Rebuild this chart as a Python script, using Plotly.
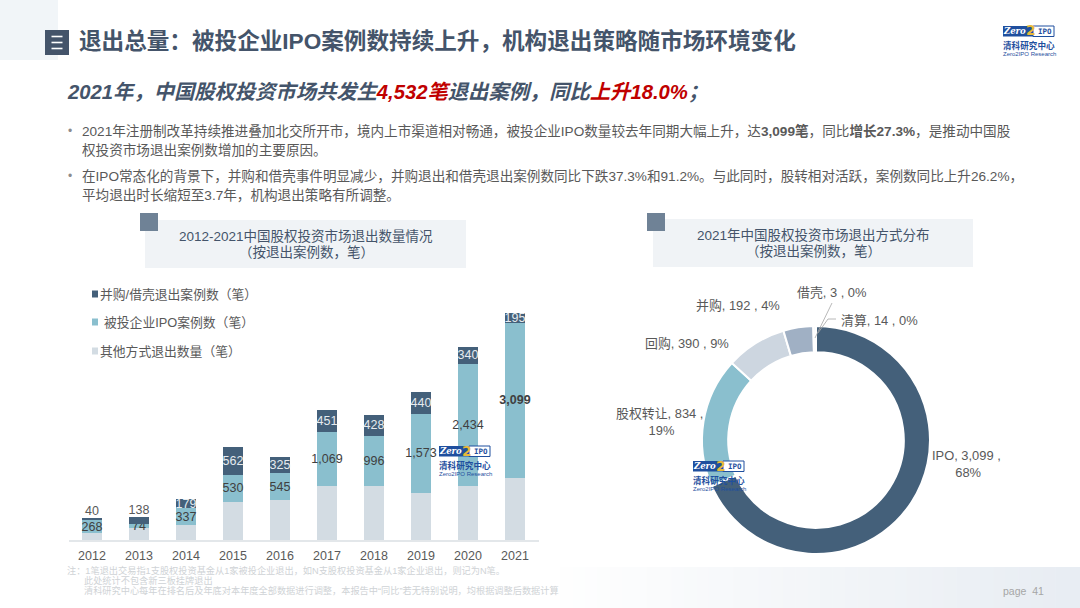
import plotly.graph_objects as go

W, H = 1080, 608
years = ["2012","2013","2014","2015","2016","2017","2018","2019","2020","2021"]
other_exits = [132, 248, 300, 768, 790, 1080, 1076, 947, 1086, 1238]
ipo_cases = [268, 74, 337, 530, 545, 1069, 996, 1573, 2434, 3099]
mna_cases = [40, 138, 179, 562, 325, 451, 428, 440, 340, 195]
legend_names = ["并购/借壳退出案例数（笔）", "被投企业IPO案例数（笔）", "其他方式退出数量（笔）"]
pie_names = ["IPO", "股权转让", "回购", "并购", "借壳", "清算"]
pie_values = [3099, 834, 390, 192, 3, 14]
pie_pct = ["68%", "19%", "9%", "4%", "0%", "0%"]

DARK, TEAL, PALE = "#44607a", "#8abfce", "#d3dce3"
SANS = "Liberation Sans, Noto Sans CJK SC, sans-serif"
TXT = "#595959"
SLATE = "#44546a"

def X(p): return p / W
def Y(p): return 1 - p / H

shapes, annos = [], []

def rect(x0, y0, x1, y1, fill, line=None, lw=0, layer="below", opacity=1):
    shapes.append(dict(type="rect", xref="paper", yref="paper", x0=X(x0), x1=X(x1), y0=Y(y0), y1=Y(y1),
                       fillcolor=fill, line=dict(color=line or fill, width=lw), layer=layer, opacity=opacity))

def seg(x0, y0, x1, y1, color, width=1, layer="above"):
    shapes.append(dict(type="line", xref="paper", yref="paper", x0=X(x0), x1=X(x1), y0=Y(y0), y1=Y(y1),
                       line=dict(color=color, width=width), layer=layer))

def text(x, y, s, size=12, color=TXT, anchor="left", family=SANS, align=None):
    annos.append(dict(xref="paper", yref="paper", x=X(x), y=Y(y), text=s, showarrow=False,
                      xanchor=anchor, yanchor="middle", align=align or anchor,
                      font=dict(size=size, color=color, family=family), borderpad=0, borderwidth=0))

def logo(x0, y0):
    blue = "#1f4f9e"
    rect(x0, y0, x0 + 30, y0 + 10.5, blue, layer="above")
    rect(x0 + 30, y0, x0 + 51, y0 + 10.5, "#ffffff", line=blue, lw=1, layer="above")
    text(x0 + 11, y0 + 5.3, "<b><i>Zero</i></b>", 8.5, "#ffffff", "center", "DejaVu Serif")
    text(x0 + 42, y0 + 5.3, "<b>IPO</b>", 7.5, blue, "center", "DejaVu Sans Mono")
    text(x0 + 28, y0 + 4.5, "<b>2</b>", 14, "#e8b93a", "center", "DejaVu Sans")
    text(x0 + 26, y0 + 19, "<b>清科研究中心</b>", 8.6, blue, "center")
    text(x0 + 26, y0 + 27.5, "Zero2IPO Research", 6, blue, "center")

# page background pieces
rect(0, 0, 58, 60, "#f1f5f8")
# footer band: fades from white at the left to pale blue-grey at the right
steps = 42
for k in range(steps):
    t = (k + 1) / steps
    c = (255 - 23 * t, 255 - 18 * t, 255 - 12 * t)
    x0 = 560 + (W - 560) * k / steps
    x1 = 560 + (W - 560) * (k + 1) / steps + 0.5
    rect(x0, 567, x1, H, "rgb(%d,%d,%d)" % c)

# header
rect(45, 30, 69, 55, SLATE)
for yy in (36.5, 42.5, 48.5):
    seg(51.5, yy, 62.5, yy, "#ffffff", 1.6)
text(79, 41, "<b>退出总量：被投企业IPO案例数持续上升，机构退出策略随市场环境变化</b>", 22.6, SLATE)
R = "#c00000"
text(67, 92, f"<b><i>2021年，中国股权投资市场共发生<span style='color:{R}'>4,532笔</span>退出案例，同比<span style='color:{R}'>上升18.0%</span>；</i></b>", 20.3, SLATE)
logo(1003, 26)

# body text
body = [
    (131, "2021年注册制改革持续推进叠加北交所开市，境内上市渠道相对畅通，被投企业IPO数量较去年同期大幅上升，达<b>3,099笔</b>，同比<b>增长27.3%</b>，是推动中国股"),
    (150, "权投资市场退出案例数增加的主要原因。"),
    (176, "在IPO常态化的背景下，并购和借壳事件明显减少，并购退出和借壳退出案例数同比下跌37.3%和91.2%。与此同时，股转相对活跃，案例数同比上升26.2%，"),
    (195, "平均退出时长缩短至3.7年，机构退出策略有所调整。"),
]
for yy, line in body:
    text(82, yy, line, 13.6, TXT)
for yy in (131, 176):
    text(68, yy, "•", 12, "#8c8c8c")

# panel headers
rect(145, 220, 466, 268, "#f0f3f6")
rect(140, 213, 158, 231, "#6f8296")
text(306, 236, "2012-2021中国股权投资市场退出数量情况", 13.5, SLATE, "center")
text(306, 252, "（按退出案例数，笔）", 13.5, SLATE, "center")
rect(653, 219, 973, 267, "#f0f3f6")
rect(647, 213, 665, 231, "#6f8296")
text(813, 235, "2021年中国股权投资市场退出方式分布", 13.5, SLATE, "center")
text(813, 251, "（按退出案例数，笔）", 13.5, SLATE, "center")

# manual legend
for (yy, col, name, tx) in zip((294, 322, 351), (DARK, TEAL, PALE), legend_names, (100, 104, 100)):
    rect(92, yy - 3.5, 98, yy + 3.5, col)
    text(tx, yy, name, 12.8, TXT)

# footnotes
FN = "#cfd3d6"
text(67, 570.5, "注：1笔退出交易指1支股权投资基金从1家被投企业退出，如N支股权投资基金从1家企业退出，则记为N笔。", 9.2, FN)
text(84, 580.5, "此处统计不包含新三板挂牌退出", 9.2, FN)
text(84, 590.5, "清科研究中心每年在排名后及年底对本年度全部数据进行调整，本报告中“同比”若无特别说明，均根据调整后数据计算", 9.2, FN)
text(1003, 591, "page  41", 10.5, "#a6a6a6")

fig = go.Figure()
fig.add_bar(x=years, y=other_exits, name=legend_names[2], marker=dict(color=PALE, line_width=0))
fig.add_bar(x=years, y=ipo_cases, name=legend_names[1], marker=dict(color=TEAL, line_width=0),
            text=[f"<b>{v:,}</b>" if y == "2021" else f"{v:,}" for y, v in zip(years, ipo_cases)],
            textposition="inside", insidetextanchor="middle", constraintext="none", textangle=0,
            insidetextfont=dict(size=12.5, color="#404040", family=SANS))
fig.add_bar(x=years, y=mna_cases, name=legend_names[0], marker=dict(color=DARK, line_width=0),
            text=["" if i < 2 else str(v) for i, v in enumerate(mna_cases)],
            textposition="inside", insidetextanchor="middle", constraintext="none", textangle=0,
            insidetextfont=dict(size=12.5, color="#e6ebef", family=SANS))
# the two thinnest dark bars carry their label above the bar
fig.add_scatter(x=years[:2], y=[o + i + m for o, i, m in zip(other_exits[:2], ipo_cases[:2], mna_cases[:2])],
                mode="text", text=[str(v) for v in mna_cases[:2]], textposition="top center",
                textfont=dict(size=12.5, color=TXT, family=SANS), showlegend=False, cliponaxis=False)

# donut
cx, cy, r = 816, 440, 114
fig.add_pie(labels=pie_names, values=pie_values, sort=False, direction="clockwise", rotation=0, hole=0.77,
            marker=dict(colors=[DARK, TEAL, "#cdd6e0", "#a0b0c4", "#dfe6ec", "#dfe6ec"],
                        line=dict(color="#ffffff", width=2)),
            textinfo="none", showlegend=False,
            domain=dict(x=[X(cx - r), X(cx + r)], y=[Y(cy + r), Y(cy - r)]))

pie_spots = [(967.5, 464), (661, 422), (687, 343), (738, 305), (832, 293), (879, 320)]
for (px, py), n, v, p in zip(pie_spots, pie_names, pie_values, pie_pct):
    sep = "<br>" if n in ("IPO", "股权转让") else ""
    text(px, py, f"{n}, {v:,} , {sep}{p}", 12.9, TXT, "center")
seg(815, 338, 832, 303, "#a6a6a6", .8)
seg(818, 333, 828, 319, "#a6a6a6", .8)
seg(828, 319, 836, 319, "#a6a6a6", .8)

logo(439, 446)
logo(693, 461)

fig.update_layout(
    width=W, height=H, autosize=False, margin=dict(l=0, r=0, t=0, b=0),
    paper_bgcolor="#ffffff", plot_bgcolor="rgba(0,0,0,0)",
    barmode="stack", bargap=0.59, showlegend=False,
    font=dict(family=SANS),
    shapes=shapes, annotations=annos,
    xaxis=dict(type="category", domain=[X(68.5), X(538.5)], range=[-0.5, 9.5], showgrid=False,
               showline=True, linecolor="#e3e7ea", linewidth=1.5, ticks="", ticklabelstandoff=3,
               tickfont=dict(size=12.5, color=TXT, family=SANS)),
    yaxis=dict(domain=[Y(540), Y(300)], range=[0, 4790], visible=False, showgrid=False, zeroline=False),
)
fig.write_html("out.html", config=dict(displayModeBar=False),
               post_script="document.body.style.margin='0';")
